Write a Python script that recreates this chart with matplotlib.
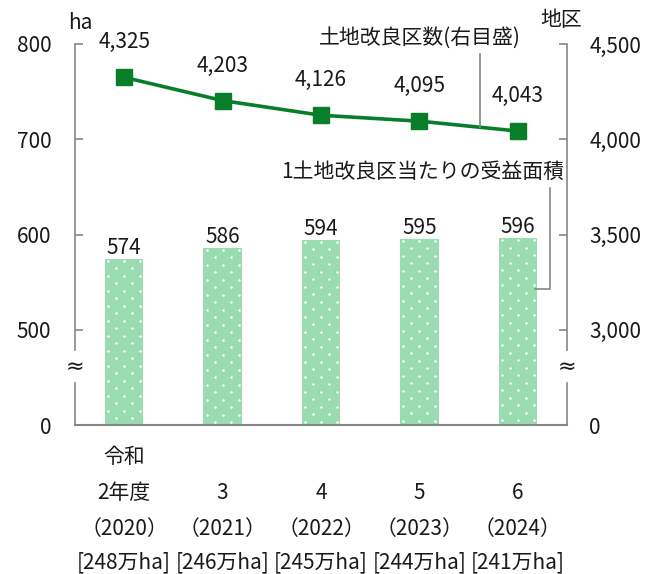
import numpy as np
import matplotlib
matplotlib.use("Agg")
import matplotlib.pyplot as plt
from matplotlib.transforms import blended_transform_factory

plt.rcParams['font.family'] = ['Noto Sans CJK JP', 'DejaVu Sans']

# data
year_rows = [["令和", "2年度", "（2020）"],
             ["", "3", "（2021）"],
             ["", "4", "（2022）"],
             ["", "5", "（2023）"],
             ["", "6", "（2024）"]]
total_area = [248, 246, 245, 244, 241]          # 万ha
area_per_district = [574, 586, 594, 595, 596]   # ha
district_count = [4325, 4203, 4126, 4095, 4043]  # 地区

left_ticks = [0, 500, 600, 700, 800]
right_ticks = [0, 3000, 3500, 4000, 4500]


# broken axes: 0 sits one step below the first real tick
def to_left(v):
    v = np.asarray(v, dtype=float)
    return np.where(v > 0, (v - 400) / 100, 0)


def to_right(v):
    v = np.asarray(v, dtype=float)
    return np.where(v > 0, (v - 2500) / 500, 0)


W, H = 650, 574
fig = plt.figure(figsize=(W / 100, H / 100), dpi=100)
ax = fig.add_axes([75 / W, 1 - 425 / H, (567 - 75) / W, (425 - 44) / H])
ax.set_xlim(-0.5, 4.5)
ax.set_ylim(0, 4)

gray = '#868686'
bar_color = '#98dcaf'
line_color = '#087d2a'
txt = '#1a1a1a'

x = np.arange(len(area_per_district))
bar_h = to_left(area_per_district)
bar_w = 0.39
bars = ax.bar(x, bar_h, width=bar_w, color=bar_color, zorder=2)

# white dot texture on the bars
dx = 16 / 98.4
dy = 7.5 / 95.25
for xi, h, b in zip(x, bar_h, bars):
    pts = []
    for r, yy in enumerate(np.arange(h - 0.018, 0, -dy)):
        offs = [-1, 0, 1] if r % 2 == 0 else [-0.5, 0.5]
        pts += [(xi + o * dx, yy) for o in offs]
    pts = np.array(pts)
    sc = ax.scatter(pts[:, 0], pts[:, 1], s=3.2, color='white', linewidths=0, zorder=3)
    sc.set_clip_path(b)

for xi, h, v in zip(x, bar_h, area_per_district):
    ax.annotate(f"{v}", (xi, h), xytext=(0, 5), textcoords='offset pixels',
                ha='center', va='baseline', fontsize=15, color=txt)

# district count line (right scale)
line_y = to_right(district_count)
ax.plot(x, line_y, color=line_color, lw=2.6, marker='s', ms=12, zorder=4)
for xi, yv, v in zip(x, line_y, district_count):
    ax.annotate(f"{v:,}", (xi, yv), xytext=(0, 29), textcoords='offset pixels',
                ha='center', va='baseline', fontsize=15, color=txt)

# spines with break marks
for s in ['top', 'left', 'right']:
    ax.spines[s].set_visible(False)
ax.spines['bottom'].set_color(gray)
ax.spines['bottom'].set_linewidth(1.5)
gap_lo, gap_hi = 0.44, 0.79
for xa in (0, 1):
    ax.plot([xa, xa], [0, gap_lo / 4], transform=ax.transAxes, color=gray,
            lw=1.2, clip_on=False, zorder=1)
    ax.plot([xa, xa], [gap_hi / 4, 1], transform=ax.transAxes, color=gray,
            lw=1.2, clip_on=False, zorder=1)
    ax.text(xa, (gap_lo + gap_hi) / 8, "≈", transform=ax.transAxes, ha='center',
            va='center', fontsize=16, color=txt, family='DejaVu Sans')

ax.set_xticks([])
ax.set_yticks(to_left(left_ticks), [f"{t}" for t in left_ticks])
ax.tick_params(axis='y', direction='in', length=6, width=1.2, color=gray,
               labelsize=15, labelcolor=txt, pad=17)
ax2 = ax.twinx()
ax2.set_ylim(0, 4)
for s in ax2.spines.values():
    s.set_visible(False)
ax2.set_yticks(to_right(right_ticks), [f"{t:,}" for t in right_ticks])
ax2.tick_params(axis='y', direction='in', length=6, width=1.2, color=gray,
                labelsize=15, labelcolor=txt, pad=16)
for t in ax.yaxis.get_major_ticks()[:1] + ax2.yaxis.get_major_ticks()[:1]:
    t.tick1line.set_visible(False)
    t.tick2line.set_visible(False)

# category labels under the axis
tr = blended_transform_factory(ax.transData, fig.transFigure)
row_y = [457, 493, 529]
for xi, rows, a in zip(x, year_rows, total_area):
    for yy, s in zip(row_y, rows):
        if s:
            ax.text(xi, 1 - yy / H, s, transform=tr, ha='center', va='center',
                    fontsize=15, color=txt)
    ax.text(xi, 1 - 562 / H, f"[{a}万ha]", transform=tr, ha='center', va='center',
            fontsize=15, color=txt)

# unit labels
fig.text(80 / W, 1 - 23 / H, "ha", ha='center', va='center', fontsize=15, color=txt)
fig.text(561 / W, 1 - 20 / H, "地区", ha='center', va='center', fontsize=15, color=txt)

# series captions with leader lines
fig.text(521 / W, 1 - 38 / H, "土地改良区数(右目盛)", ha='right', va='center',
         fontsize=15, color=txt)
fig.add_artist(plt.Line2D([480 / W, 480 / W], [1 - 54 / H, 1 - 127 / H],
                          color=gray, lw=1.2))
fig.text(564 / W, 1 - 172 / H, "1土地改良区当たりの受益面積", ha='right', va='center',
         fontsize=15, color=txt)
fig.add_artist(plt.Line2D([550 / W, 550 / W, 535 / W],
                          [1 - 188 / H, 1 - 289 / H, 1 - 289 / H],
                          color=gray, lw=1.2))

fig.savefig("out.png", dpi=100)
